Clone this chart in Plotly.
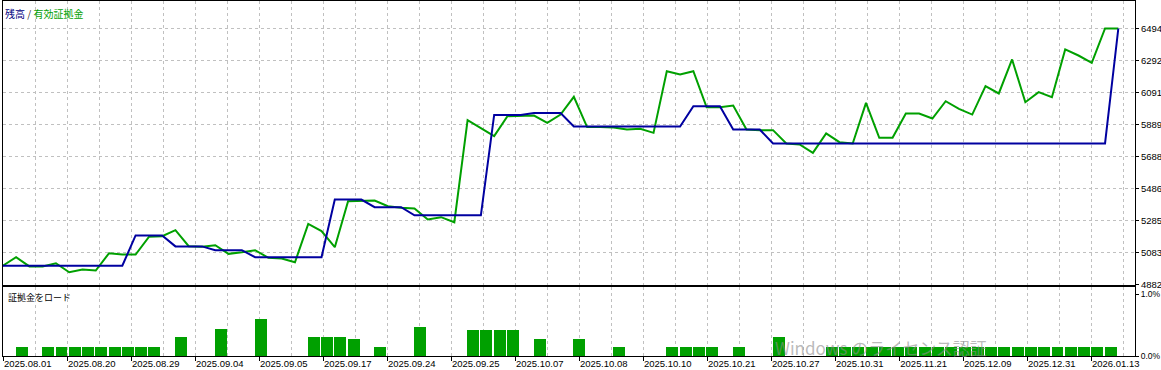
import plotly.graph_objects as go
from plotly.subplots import make_subplots

# ---------------- data ----------------
deal = list(range(85))

balance = [5000] * 10 + [5191] * 3 + [5122] * 3 + [5098] * 3 + [5054] * 6 + \
          [5417] * 3 + [5369] * 3 + [5318] * 6 + [5950] * 3 + [5962] * 3 + \
          [5877] * 9 + [6005] * 3 + [5858] * 3 + [5770] * 26 + [6494]

equity = [5000, 5054, 4996, 4996, 5016, 4959, 4976, 4970, 5079, 5071,
          5071, 5182, 5186, 5224, 5123, 5119, 5129, 5075, 5085, 5098,
          5050, 5046, 5022, 5264, 5218, 5117, 5407, 5411, 5411, 5375,
          5365, 5361, 5291, 5306, 5274, 5917, 5869, 5816, 5942, 5946,
          5946, 5900, 5952, 6064, 5873, 5873, 5871, 5858, 5862, 5837,
          6225, 6204, 6225, 5998, 5998, 6009, 5858, 5854, 5854, 5770,
          5764, 5711, 5833, 5778, 5770, 6026, 5806, 5806, 5959, 5959,
          5927, 6036, 5988, 5952, 6131, 6085, 6299, 6030, 6093, 6061,
          6362, 6324, 6278, 6494, 6494]

load_deals = [1, 3, 4, 5, 6, 7, 8, 9, 10, 11, 13, 16, 19, 23, 24, 25, 26, 28,
              31, 35, 36, 37, 38, 40, 43, 46, 50, 51, 52, 53, 55, 58] + list(range(62, 84))
load_pct = [0.15, 0.15, 0.15, 0.16, 0.15, 0.16, 0.15, 0.15, 0.15, 0.15,
            0.31, 0.45, 0.61, 0.31, 0.31, 0.31, 0.29, 0.16,
            0.47, 0.42, 0.42, 0.42, 0.42, 0.29, 0.29, 0.16,
            0.15, 0.15, 0.15, 0.15, 0.16, 0.31] + [0.15] * 22

x_labels = ["2025.08.01", "2025.08.20", "2025.08.29", "2025.09.04", "2025.09.05",
            "2025.09.17", "2025.09.24", "2025.09.25", "2025.10.07", "2025.10.08",
            "2025.10.10", "2025.10.21", "2025.10.27", "2025.10.31", "2025.11.21",
            "2025.12.09", "2025.12.31", "2026.01.13"]

y_ticks = [4882, 5083, 5285, 5486, 5688, 5889, 6091, 6292, 6494]
load_ticks = [0.0, 1.0]
load_labels = ["0.0%", "1.0%"]

# ---------------- geometry ----------------
W, H = 1161, 370
ML, MR, MT, MB = 3, 26, 1, 14
PX_PER_DEAL = 13.28
X0_PX = 2.8            # pixel column of deal 0
LABEL_STEP_PX = 64
GRID_STEP_PX = 32
FIRST_TICK_PX = 3.7


def px_to_deal(px):
    return (px - X0_PX) / PX_PER_DEAL


plot_h = H - MT - MB
main_bottom_px = 284.5
sub_top_px = 286.5
main_domain = [(H - MB - main_bottom_px) / plot_h, 1.0]
sub_domain = [0.0, (H - MB - sub_top_px) / plot_h]

val_per_px = (y_ticks[-1] - y_ticks[0]) / 256.0
y_range = [y_ticks[0], y_ticks[0] + (main_bottom_px - MT) * val_per_px]
sub_px_per_pct = 62.0
sub_range = [0, (H - MB - sub_top_px) / sub_px_per_pct]

x_range = [px_to_deal(ML), px_to_deal(W - MR)]
tick_pos = [px_to_deal(FIRST_TICK_PX + LABEL_STEP_PX * j) for j in range(len(x_labels))]

GREEN = "#00A000"
BLUE = "#0000A0"
GRID = "#C0C0C0"
FONT = "Tahoma, Liberation Sans, Arial, sans-serif"
JFONT = "Noto Sans CJK JP, sans-serif"

fig = make_subplots(rows=2, cols=1, shared_xaxes=True)

fig.add_trace(go.Scatter(x=deal, y=equity, mode="lines",
                         line=dict(color=GREEN, width=2), hoverinfo="skip",
                         showlegend=False), row=1, col=1)
fig.add_trace(go.Scatter(x=deal, y=balance, mode="lines",
                         line=dict(color=BLUE, width=2), hoverinfo="skip",
                         showlegend=False), row=1, col=1)
fig.add_trace(go.Bar(x=[d + 0.42 for d in load_deals], y=load_pct, width=0.9,
                     marker=dict(color=GREEN, line=dict(width=0)),
                     hoverinfo="skip", showlegend=False), row=2, col=1)

grid_common = dict(showgrid=True, gridcolor=GRID, gridwidth=1, griddash="3px,3px")
xcommon = dict(range=x_range, zeroline=False, showline=True, mirror=True,
               linecolor="black", linewidth=1, tickvals=tick_pos, automargin=False,
               minor=dict(tick0=px_to_deal(FIRST_TICK_PX),
                          dtick=GRID_STEP_PX / PX_PER_DEAL,
                          showgrid=True, gridcolor=GRID, griddash="3px,3px",
                          ticks=""),
               **grid_common)

fig.update_layout(
    width=W, height=H,
    margin=dict(l=ML, r=MR, t=MT, b=MB, autoexpand=False),
    paper_bgcolor="white", plot_bgcolor="white",
    bargap=0,
    xaxis=dict(showticklabels=False, ticks="", **xcommon),
    xaxis2=dict(showticklabels=True, ticktext=x_labels, ticks="outside",
                ticklen=4, tickcolor="black", ticklabelshift=24,
                ticklabelstandoff=-5,
                tickfont=dict(family=FONT, size=9.5, color="black"), **xcommon),
    yaxis=dict(domain=main_domain, range=y_range, side="right", automargin=False,
               tickvals=y_ticks, ticktext=[str(v) for v in y_ticks],
               ticks="outside", ticklen=3, tickcolor="black",
               tickfont=dict(family=FONT, size=9.5, color="black"),
               showline=True, mirror=True, linecolor="black", linewidth=1,
               zeroline=False, **grid_common),
    yaxis2=dict(domain=sub_domain, range=sub_range, side="right", automargin=False,
                tickvals=load_ticks, ticktext=load_labels,
                ticks="outside", ticklen=3, tickcolor="black",
                tickfont=dict(family=FONT, size=8.5, color="black"),
                showline=True, mirror=True, linecolor="black", linewidth=1,
                zeroline=False, showgrid=False),
)

fig.add_annotation(xref="paper", yref="paper", x=0, y=1, xanchor="left", yanchor="top",
                   xshift=0, yshift=-3, showarrow=False,
                   text="<span style='color:#000080'>残高</span> / "
                        "<span style='color:#00A000'>有効証拠金</span>",
                   font=dict(family=JFONT, size=10, color="#333333"))
fig.add_annotation(xref="paper", yref="paper", x=0, y=sub_domain[1], xanchor="left",
                   yanchor="top", xshift=3, yshift=-2, showarrow=False,
                   text="証拠金をロード",
                   font=dict(family=JFONT, size=9, color="black"))

# screen watermark present in the reference
fig.add_annotation(xref="paper", yref="paper", x=(773 - ML) / (W - ML - MR), y=(H - MB - 347) / plot_h,
                   xanchor="left", yanchor="middle", showarrow=False,
                   text="Windows のライセンス認証",
                   font=dict(family=JFONT, size=17, color="rgba(140,140,140,0.6)"))

fig.write_html("out.html")
